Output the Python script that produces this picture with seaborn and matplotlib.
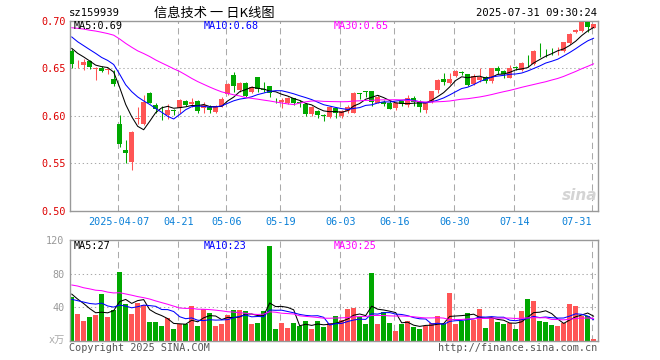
import matplotlib
matplotlib.use("Agg")
import matplotlib.pyplot as plt
import numpy as np
import pandas as pd
import seaborn as sns

# ---------------- data ----------------
code = "sz159939"
title = "信息技术 一 日K线图"
stamp = "2025-07-31 09:30:24"

open_px = [0.668, 0.653, 0.653, 0.658, 0.649, 0.650, 0.648, 0.639, 0.591, 0.564,
           0.552, 0.597, 0.591, 0.624, 0.611, 0.6085, 0.601, 0.606, 0.608, 0.616,
           0.6125, 0.616, 0.608, 0.609, 0.6045, 0.610, 0.623, 0.643, 0.627, 0.635,
           0.6255, 0.641, 0.628, 0.631, 0.6178, 0.615, 0.6133, 0.6185, 0.6142, 0.6123,
           0.602, 0.605, 0.6005, 0.599, 0.608, 0.600, 0.6046, 0.6035, 0.6232, 0.6256,
           0.626, 0.614, 0.615, 0.6133, 0.608, 0.6157, 0.6115, 0.6185, 0.615, 0.6063,
           0.615, 0.6273, 0.6388, 0.6343, 0.6423, 0.6458, 0.6441, 0.6336, 0.6378, 0.6406,
           0.6367, 0.6507, 0.6472, 0.6402, 0.6507, 0.6483, 0.6545, 0.6542, 0.6682, 0.6682,
           0.6693, 0.6688, 0.6682, 0.6762, 0.6878, 0.6892, 0.699, 0.692]
high_px = [0.670, 0.659, 0.660, 0.659, 0.651, 0.652, 0.650, 0.648, 0.601, 0.575,
           0.584, 0.609, 0.622, 0.625, 0.614, 0.610, 0.612, 0.607, 0.6175, 0.617,
           0.6185, 0.617, 0.615, 0.6115, 0.6115, 0.620, 0.635, 0.6465, 0.636, 0.636,
           0.6315, 0.641, 0.636, 0.631, 0.619, 0.6185, 0.620, 0.6185, 0.617, 0.6133,
           0.610, 0.606, 0.602, 0.6105, 0.609, 0.606, 0.6115, 0.6255, 0.6245, 0.6256,
           0.626, 0.622, 0.617, 0.6168, 0.615, 0.6168, 0.622, 0.621, 0.6168, 0.614,
           0.6262, 0.6385, 0.6448, 0.6448, 0.6483, 0.6476, 0.6441, 0.6437, 0.650, 0.642,
           0.650, 0.6522, 0.6483, 0.6535, 0.6528, 0.6563, 0.664, 0.6693, 0.6763, 0.670,
           0.671, 0.6728, 0.678, 0.6867, 0.6913, 0.699, 0.7007, 0.6962]
low_px = [0.650, 0.650, 0.648, 0.649, 0.638, 0.646, 0.644, 0.631, 0.567, 0.550,
          0.543, 0.591, 0.590, 0.613, 0.603, 0.596, 0.597, 0.601, 0.603, 0.610,
          0.609, 0.603, 0.603, 0.603, 0.6035, 0.609, 0.622, 0.6255, 0.6255, 0.620,
          0.624, 0.6255, 0.6255, 0.620, 0.614, 0.608, 0.612, 0.6115, 0.609, 0.600,
          0.600, 0.5975, 0.595, 0.598, 0.598, 0.5975, 0.603, 0.6035, 0.6175, 0.620,
          0.610, 0.6133, 0.6105, 0.607, 0.6063, 0.6105, 0.6098, 0.6105, 0.6045, 0.6028,
          0.614, 0.6238, 0.6325, 0.6336, 0.6405, 0.643, 0.6315, 0.6325, 0.636, 0.635,
          0.635, 0.644, 0.6402, 0.6395, 0.6483, 0.6472, 0.6518, 0.6535, 0.6623, 0.6623,
          0.664, 0.664, 0.6675, 0.6752, 0.6867, 0.6885, 0.6885, 0.692]
close_px = [0.655, 0.6535, 0.657, 0.651, 0.650, 0.647, 0.649, 0.633, 0.570, 0.561,
            0.583, 0.598, 0.615, 0.614, 0.607, 0.608, 0.606, 0.605, 0.617, 0.6115,
            0.615, 0.605, 0.611, 0.6065, 0.610, 0.6175, 0.6335, 0.631, 0.635, 0.621,
            0.630, 0.628, 0.627, 0.624, 0.6175, 0.617, 0.6185, 0.614, 0.614, 0.602,
            0.609, 0.601, 0.600, 0.6098, 0.603, 0.6046, 0.6098, 0.6245, 0.623, 0.6253,
            0.615, 0.620, 0.6126, 0.6075, 0.6133, 0.6122, 0.6185, 0.615, 0.609, 0.6133,
            0.626, 0.6378, 0.636, 0.6388, 0.6472, 0.6455, 0.6325, 0.642, 0.6413, 0.6371,
            0.650, 0.6476, 0.6437, 0.650, 0.6503, 0.6553, 0.6541, 0.6682, 0.6678, 0.6678,
            0.6688, 0.6693, 0.678, 0.686, 0.6902, 0.6983, 0.6937, 0.6962]
volume = [52.4, 31.8, 23.5, 28.2, 30.6, 55.6, 28.2, 36.6, 81.9, 43.7,
          31.8, 44.9, 42.5, 22.3, 22.3, 17.5, 27.0, 13.9, 19.9, 19.9,
          41.3, 17.5, 37.8, 33.0, 17.5, 19.9, 30.6, 36.6, 36.6, 35.4,
          19.9, 21.1, 35.4, 112.9, 13.9, 21.1, 15.1, 21.1, 17.5, 23.5,
          13.9, 23.5, 16.3, 21.0, 29.4, 24.7, 37.8, 39.0, 28.2, 19.9,
          80.7, 19.9, 34.2, 21.1, 11.6, 19.9, 23.5, 16.3, 13.9, 17.5,
          21.1, 29.4, 19.9, 56.8, 19.9, 23.5, 33.0, 24.7, 37.8, 15.1,
          27.0, 22.3, 19.9, 21.1, 13.9, 35.4, 49.7, 47.3, 23.5, 22.3,
          18.7, 17.5, 21.1, 43.7, 41.3, 29.4, 29.4, 2.0]

# sessions before the window, only used to start the moving averages
prior_close = [0.672, 0.680, 0.688, 0.676, 0.685, 0.690, 0.684, 0.691,
               0.698, 0.705, 0.712, 0.700, 0.708, 0.715, 0.702, 0.696, 0.699, 0.702,
               0.718, 0.727, 0.705, 0.698, 0.692, 0.690, 0.690,
               0.680, 0.676, 0.672, 0.672]
prior_volume = [70, 85, 68, 78, 72, 80, 66, 74,
                88, 76, 95, 82, 70, 90, 78, 86, 80, 87,
                35, 39, 48, 40, 45, 38, 44,
                62, 50, 58, 55.6]

tick_pos = [8, 18, 26, 35, 45, 54, 64, 74, 87]
tick_labels = ["2025-04-07", "04-21", "05-06", "05-19", "06-03",
               "06-16", "06-30", "07-14", "07-31"]
price_ticks = [0.50, 0.55, 0.60, 0.65, 0.70]
vol_ticks = [40, 80, 120]

# ---------------- frame ----------------
df = pd.DataFrame({"open": open_px, "high": high_px, "low": low_px,
                   "close": close_px, "volume": volume})
df["day"] = np.arange(len(df))
df["dir"] = np.where(df["close"] >= df["open"], "up", "down")
n_prior = len(prior_close)
c_all = pd.Series(prior_close + close_px)
v_all = pd.Series(prior_volume + volume)
for w in (5, 10, 30):
    df[f"ma{w}"] = c_all.rolling(w).mean().iloc[n_prior:].to_numpy()
    df[f"vma{w}"] = v_all.rolling(w).mean().iloc[n_prior:].to_numpy()

RED = "#ff5555"
GREEN = "#00a800"
GRID = "#aaaaaa"
SPINE = "#999999"
BLUE_TXT = "#0a80d8"
LW = 0.75  # one pixel at 100 dpi
cols = np.where(df["dir"] == "up", RED, GREEN)

sns.set_theme(style="white")
plt.rcParams["font.family"] = ["DejaVu Sans Mono", "Noto Sans CJK SC"]

W, H = 660, 360
fig = plt.figure(figsize=(6.6, 3.6), dpi=100)
fig.patch.set_facecolor("white")
ax = fig.add_axes([70 / W, 1 - 211 / H, 528 / W, 190.3 / H])
axv = fig.add_axes([70 / W, 1 - 340.7 / H, 528 / W, 100.7 / H])

xmin, xmax = -0.28, 87.72

# ---------------- grid ----------------
for p in tick_pos:
    for a in (ax, axv):
        a.axvline(p - 0.2, color=GRID, lw=LW, ls=(0, (6, 4)), zorder=0)
for y in (0.55, 0.60, 0.65):
    ax.axhline(y, color=GRID, lw=LW, ls=(0, (1.3, 2.6)), zorder=0)
for y in (40, 80):
    axv.axhline(y, color=GRID, lw=LW, ls=(0, (1.3, 2.6)), zorder=0)

# ---------------- candles ----------------
body_bot = np.minimum(df["open"], df["close"])
body_h = np.maximum(np.abs(df["close"] - df["open"]), 0.0006)
ax.vlines(df["day"], df["low"], df["high"], colors=cols, lw=LW, zorder=2)
ax.bar(df["day"], body_h, bottom=body_bot, width=0.8, color=cols, lw=0, zorder=3)

sns.lineplot(data=df, x="day", y="ma5", color="black", lw=LW, ax=ax, zorder=4)
sns.lineplot(data=df, x="day", y="ma10", color="#0000ff", lw=LW, ax=ax, zorder=4)
sns.lineplot(data=df, x="day", y="ma30", color="#ff00ff", lw=LW, ax=ax, zorder=4)

# ---------------- volume ----------------
sns.barplot(data=df, x="day", y="volume", hue="dir",
            palette={"up": RED, "down": GREEN}, native_scale=True, width=0.8,
            dodge=False, saturation=1, errorbar=None, legend=False,
            linewidth=0, ax=axv, zorder=2)
sns.lineplot(data=df, x="day", y="vma5", color="black", lw=LW, ax=axv, zorder=4)
sns.lineplot(data=df, x="day", y="vma10", color="#0000ff", lw=LW, ax=axv, zorder=4)
sns.lineplot(data=df, x="day", y="vma30", color="#ff00ff", lw=LW, ax=axv, zorder=4)

# ---------------- axes ----------------
for a in (ax, axv):
    a.set_xlim(xmin, xmax)
    a.set_xlabel("")
    a.set_ylabel("")
    a.set_facecolor("white")
    for s in a.spines.values():
        s.set_visible(True)
        s.set_color(SPINE)
        s.set_linewidth(1.0)
    a.tick_params(length=0)

ax.set_ylim(0.50, 0.70)
ax.set_yticks(price_ticks)
ax.set_yticklabels([f"{v:.2f}" for v in price_ticks])
ax.tick_params(axis="y", labelcolor="#dd0000", labelsize=7.3, pad=3)
ax.set_xticks([p - 0.2 for p in tick_pos])
ax.set_xticklabels(tick_labels)
ax.tick_params(axis="x", labelcolor=BLUE_TXT, labelsize=7.3, pad=4)
last = ax.get_xticklabels()[-1]
last.set_horizontalalignment("right")

axv.set_ylim(0, 120)
axv.set_yticks(vol_ticks)
axv.set_yticklabels([str(v) for v in vol_ticks])
axv.tick_params(axis="y", labelcolor="#999999", labelsize=7.3, pad=4)
axv.set_xticks([])

# ---------------- texts ----------------
def ftext(x, y, s, **kw):
    fig.text(x / W, 1 - y / H, s, va="center", **kw)

ftext(69, 13, code, ha="left", fontsize=7.6, color="black")
ftext(214, 13, title, ha="center", fontsize=9.5, color="black",
      family=["Noto Sans CJK SC", "DejaVu Sans"])
ftext(597, 13, stamp, ha="right", fontsize=7.6, color="black")

ftext(74, 26, "MA5:0.69", ha="left", fontsize=7.3, color="black")
ftext(204, 26, "MA10:0.68", ha="left", fontsize=7.3, color="#0000ff")
ftext(334, 26, "MA30:0.65", ha="left", fontsize=7.3, color="#ff00ff")
ftext(74, 246, "MA5:27", ha="left", fontsize=7.3, color="black")
ftext(204, 246, "MA10:23", ha="left", fontsize=7.3, color="#0000ff")
ftext(334, 246, "MA30:25", ha="left", fontsize=7.3, color="#ff00ff")

ftext(65, 340, "x万", ha="right", fontsize=7.3, color="#aaaaaa")
ftext(69, 348, "Copyright 2025 SINA.COM", ha="left", fontsize=7.3, color="#555555")
ftext(597, 348, "http://finance.sina.com.cn", ha="right", fontsize=7.3, color="#555555")
ftext(597, 196, "sina", ha="right", fontsize=11, color="#d4d4d4",
      fontweight="bold", style="italic", family="DejaVu Sans")

fig.savefig("out.png", dpi=100, facecolor="white")
plt.close(fig)
